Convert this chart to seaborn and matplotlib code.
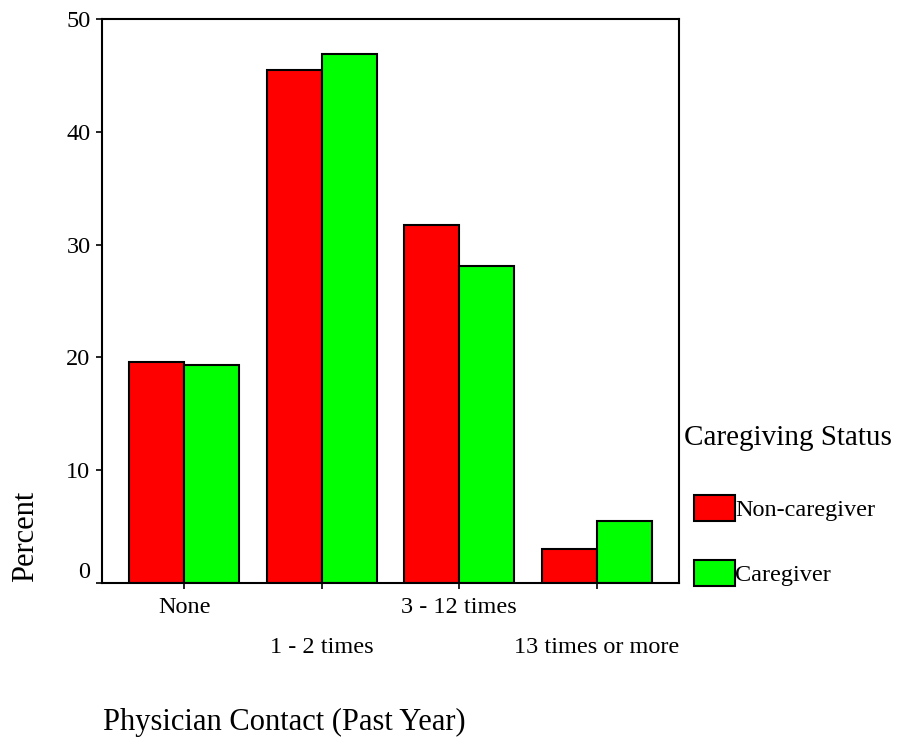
import matplotlib
matplotlib.use("Agg")
import matplotlib.pyplot as plt
import matplotlib.transforms as mtransforms
import seaborn as sns
import pandas as pd
from matplotlib.patches import Patch

categories = ["None", "1 - 2 times", "3 - 12 times", "13 times or more"]
groups = ["Non-caregiver", "Caregiver"]
non_caregiver = [19.6, 45.5, 31.7, 3.0]
caregiver = [19.3, 46.9, 28.1, 5.5]
y_ticks = [0, 10, 20, 30, 40, 50]
colors = ["#FF0000", "#00FF00"]

rows = []
for c, v in zip(categories, non_caregiver):
    rows.append({"Contact": c, "Status": groups[0], "Percent": v})
for c, v in zip(categories, caregiver):
    rows.append({"Contact": c, "Status": groups[1], "Percent": v})
df = pd.DataFrame(rows)

sns.set_style("white")
plt.rcParams['font.family'] = ['Liberation Serif', 'DejaVu Serif']
plt.rcParams['text.color'] = 'black'
plt.rcParams['xtick.color'] = 'black'
plt.rcParams['ytick.color'] = 'black'

fig = plt.figure(figsize=(9, 7.38), dpi=100)
ax = fig.add_axes([102/900, 1-583/738, 577/900, 564/738])

sns.barplot(data=df, x="Contact", y="Percent", hue="Status", order=categories,
            hue_order=groups, palette=colors, saturation=1, width=0.8,
            edgecolor="black", linewidth=1.5, ax=ax, legend=False,
            errorbar=None)

ax.set_xlim(-0.6, 3.6)
ax.set_ylim(0, 50)
ax.set_yticks(y_ticks)
ax.set_yticklabels([str(t) for t in y_ticks], fontsize=17.5)
ax.set_xticks(range(len(categories)))
ax.set_xticklabels(categories, fontsize=17.5)
ax.tick_params(axis="both", direction="out", length=4.3, width=1.2,
               color="black", bottom=True, left=True, labelcolor="black")
ax.tick_params(axis="x", pad=6)
ax.tick_params(axis="y", pad=4)
for s in ax.spines.values():
    s.set_visible(True)
    s.set_color("black")
    s.set_linewidth(1.5)
ax.set_xlabel("")
ax.set_ylabel("")

# stagger the category labels on two rows
for i, lab in enumerate(ax.get_xticklabels()):
    if i % 2 == 1:
        lab.set_transform(lab.get_transform() +
                          mtransforms.ScaledTranslation(0, -40/100, fig.dpi_scale_trans))
# the 0 label sits above its tick
ax.get_yticklabels()[0].set_va("bottom")

fig.text(103/900, 1-730/738, "Physician Contact (Past Year)", fontsize=22,
         ha="left", va="baseline")
fig.text(33/900, 1-582/738, "Percent", fontsize=22, rotation=90,
         rotation_mode="anchor", ha="left", va="baseline")

handles = [Patch(facecolor=colors[i], edgecolor="black", linewidth=1.5, label=g)
           for i, g in enumerate(groups)]
leg = fig.legend(handles=handles, title="Caregiving Status", loc="upper left",
                 bbox_to_anchor=(684/900, 1-425/738), frameon=False,
                 fontsize=17.5, title_fontsize=21, handlelength=1.7,
                 handleheight=1.25, handletextpad=0.0, labelspacing=1.6,
                 borderpad=0.0, borderaxespad=0.0)
leg._legend_box.align = "left"
leg._legend_box.sep = 25
leg._legend_handle_box.pad = 7

fig.savefig("out.png", dpi=100)
